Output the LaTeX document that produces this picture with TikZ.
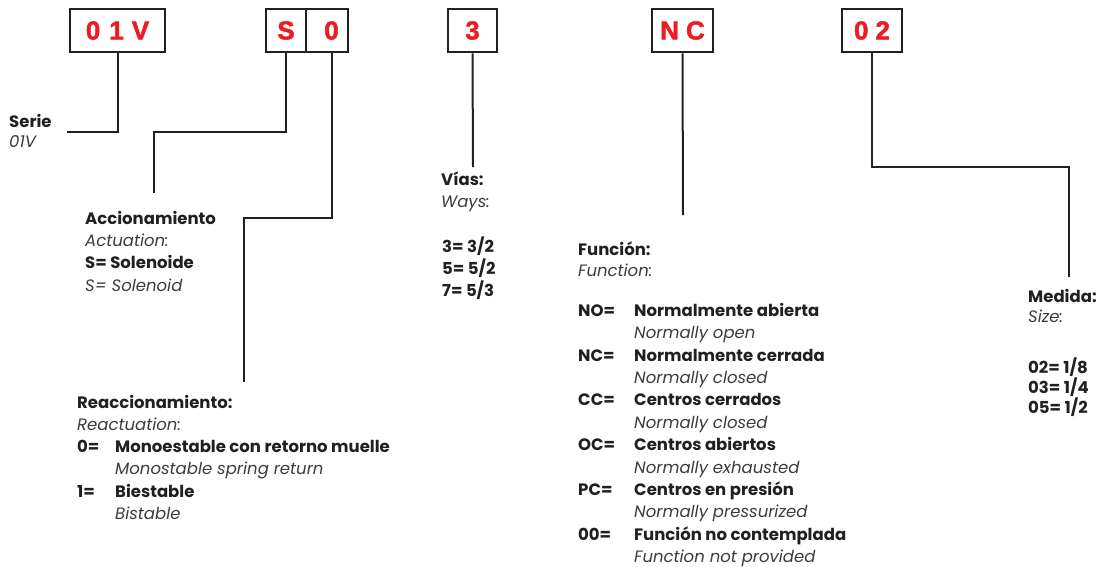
\documentclass[tikz,border=0pt]{standalone}
\usepackage{fontspec}
\setmainfont{Poppins}
\newfontfamily\boxfont{Liberation Sans}[FakeBold=1.8]
\definecolor{ink}{HTML}{231F20}
\definecolor{codered}{HTML}{ED1C24}
\definecolor{soft}{HTML}{3C3C3C}

\begin{document}
\begin{tikzpicture}[x=1pt,y=-1pt,
  codebox/.style={draw=ink,line width=2.5pt,minimum height=43pt,inner sep=0pt,
    text=codered,font=\boxfont\bfseries\fontsize{26}{26}\selectfont},
  lead/.style={draw=ink,line width=2pt},
  head/.style={anchor=base west,inner sep=0pt,text=ink,
    font=\bfseries\fontsize{16.5}{16.5}\selectfont},
  trans/.style={anchor=base west,inner sep=0pt,text=soft,
    font=\itshape\fontsize{16.5}{16.5}\selectfont}]
\useasboundingbox (0,0) rectangle (1108,566);

% code boxes
\node[codebox,minimum width=95pt] (b01V) at (117.5,30.5) {0\hspace{9pt}1\hspace{8pt}V};
\node[codebox,minimum width=40pt] (bS) at (286,30.5) {S};
\node[codebox,minimum width=42pt] (b0) at (327,30.5) {\hspace{9pt}0};
\node[codebox,minimum width=49pt] (b3) at (472.5,30.5) {3};
\node[codebox,minimum width=61pt] (bNC) at (682.5,30.5) {N\hspace{7pt}C};
\node[codebox,minimum width=60pt] (b02) at (872,30.5) {0\hspace{7pt}2};

% leader ends
\coordinate (eSerie) at (67,132);
\coordinate (eAcc) at (154,193);
\coordinate (eReac) at (244,382);
\coordinate (eVias) at (473,167);
\coordinate (eFun) at (683,215);
\coordinate (eMed) at (1069,277);

% leaders
\draw[lead] (b01V.south) |- (eSerie);
\draw[lead] (bS.south) |- (eAcc |- 0,132) -- (eAcc);
\draw[lead] ([xshift=5pt]b0.south) |- (eReac |- 0,218) -- (eReac);
\draw[lead] (b3.south) -- (eVias);
\draw[lead] (bNC.south) -- (eFun);
\draw[lead] (b02.south) |- (eMed |- 0,167) -- (eMed);

% Serie
\node[head] (serie) at (9,127) {Serie};
\node[trans] (serieT) at (9,147) {01V};

% Accionamiento
\node[head] (acc) at (85,224) {Accionamiento};
\node[trans] (accT) at (85,246) {Actuation:};
\node[head] (accS) at (85,268) {S= Solenoide};
\node[trans] (accST) at (85,291) {S= Solenoid};

% Reaccionamiento
\node[head] (reac) at (77,408) {Reaccionamiento:};
\node[trans] (reacT) at (77,430) {Reactuation:};
\node[head] (r0) at (77,452) {0=};
\node[head] (r0t) at (115,452) {Monoestable con retorno muelle};
\node[trans] (r0e) at (115,474) {Monostable spring return};
\node[head] (r1) at (77,497) {1=};
\node[head] (r1t) at (115,497) {Biestable};
\node[trans] (r1e) at (115,519) {Bistable};

% Vias
\node[head] (vias) at (441,185) {Vías:};
\node[trans] (viasT) at (441,207) {Ways:};
\node[head] (v3) at (442,252) {3= 3/2};
\node[head] (v5) at (442,274) {5= 5/2};
\node[head] (v7) at (442,296) {7= 5/3};

% Funcion
\node[head] (fun) at (578,255) {Función:};
\node[trans] (funT) at (578,276) {Function:};
\node[head] (fNO) at (578,316) {NO=};
\node[head] (fNOt) at (634,316) {Normalmente abierta};
\node[trans] (fNOe) at (634,338) {Normally open};
\node[head] (fNC) at (578,361) {NC=};
\node[head] (fNCt) at (634,361) {Normalmente cerrada};
\node[trans] (fNCe) at (634,383) {Normally closed};
\node[head] (fCC) at (578,405) {CC=};
\node[head] (fCCt) at (634,405) {Centros cerrados};
\node[trans] (fCCe) at (634,428) {Normally closed};
\node[head] (fOC) at (578,450) {OC=};
\node[head] (fOCt) at (634,450) {Centros abiertos};
\node[trans] (fOCe) at (634,473) {Normally exhausted};
\node[head] (fPC) at (578,495) {PC=};
\node[head] (fPCt) at (634,495) {Centros en presión};
\node[trans] (fPCe) at (634,517) {Normally pressurized};
\node[head] (f00) at (578,540) {00=};
\node[head] (f00t) at (634,540) {Función no contemplada};
\node[trans] (f00e) at (634,562) {Function not provided};

% Medida
\node[head] (med) at (1028,302) {Medida:};
\node[trans] (medT) at (1028,322) {Size:};
\node[head] (m02) at (1028,373) {02= 1/8};
\node[head] (m03) at (1028,393) {03= 1/4};
\node[head] (m05) at (1028,413) {05= 1/2};
\end{tikzpicture}
\end{document}
